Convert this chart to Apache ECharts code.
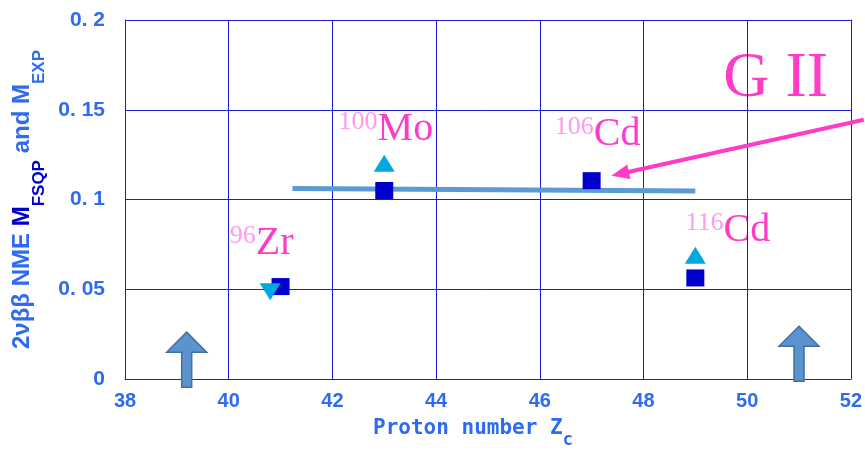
<!DOCTYPE html>
<html>
<head>
<meta charset="utf-8">
<script src="https://cdn.jsdelivr.net/npm/echarts@6/dist/echarts.min.js"></script>
<style>
  html, body { margin: 0; padding: 0; background: #ffffff; }
  #chart { width: 865px; height: 454px; }
</style>
</head>
<body>
<div id="chart"></div>
<script>
// Axis ticks
const xMin = 38, xMax = 52, xStep = 2;
const yTickLabels = ['0', '0. 05', '0. 1', '0. 15', '0. 2'];

// FSQP calculated 2vbb NMEs (squares)
const fsqpZ = [41.0, 43.0, 47.0, 49.0];
const fsqpM = [0.0515, 0.105, 0.1105, 0.0563];

// Experimental 2vbb NMEs (triangles)
const expZ = [40.8, 43.0, 49.0];
const expM = [0.0486, 0.1202, 0.0689];
const expPointsDown = [true, false, false];

// Group II trend line
const trendZ = [41.23, 49.0];
const trendM = [0.1061, 0.1047];

// Nuclide names
const nuclideMass = ['96', '100', '106', '116'];
const nuclideName = ['Zr', 'Mo', 'Cd', 'Cd'];
const groupLabel = 'G II';

const BLUE_TEXT = '#2E6BF2';
const DARK_BLUE = '#0000CC';
const GRID_BLUE = '#1B1BD8';
const PINK = '#FF3CC8';
const LIGHT_PINK = '#FF9AEE';
const SANS = '"Liberation Sans", Arial, sans-serif';
const MONO = '"DejaVu Sans Mono", monospace';

const chart = echarts.init(document.getElementById('chart'), null, { renderer: 'canvas' });

chart.setOption({
  animation: false,
  backgroundColor: '#ffffff',
  grid: { left: 125, right: 12, top: 20, bottom: 74 },
  xAxis: {
    type: 'value', min: xMin, max: xMax, interval: xStep,
    name: '{a|Proton number Z}{s|c}',
    nameLocation: 'middle', nameGap: 39,
    nameTextStyle: {
      padding: [0, 30, 0, 0],
      rich: {
        a: { fontFamily: MONO, fontSize: 21, fontWeight: 'bold', color: BLUE_TEXT, lineHeight: 22, verticalAlign: 'top' },
        s: { fontFamily: MONO, fontSize: 17, fontWeight: 'bold', color: BLUE_TEXT, lineHeight: 17, verticalAlign: 'top', padding: [14, 0, 0, 0] }
      }
    },
    axisLine: { lineStyle: { color: GRID_BLUE, width: 1 } },
    axisTick: { inside: true, length: 12, lineStyle: { color: GRID_BLUE } },
    axisLabel: { color: BLUE_TEXT, fontFamily: SANS, fontWeight: 'bold', fontSize: 20, margin: 12 },
    splitLine: { show: true, lineStyle: { color: GRID_BLUE, width: 1 } }
  },
  yAxis: [{
    type: 'value', min: 0, max: 0.2, interval: 0.05,
    name: '{a|2νββ NME }{m|M}{ms|FSQP}{a| and M}{s|EXP}',
    nameLocation: 'middle', nameGap: 75, nameRotate: 90,
    nameTextStyle: {
      rich: {
        a: { fontFamily: SANS, fontWeight: 'bold', fontSize: 24, color: BLUE_TEXT, lineHeight: 24, verticalAlign: 'top' },
        m: { fontFamily: SANS, fontWeight: 'bold', fontSize: 24, color: DARK_BLUE, lineHeight: 24, verticalAlign: 'top' },
        ms: { fontFamily: SANS, fontWeight: 'bold', fontSize: 17, color: DARK_BLUE, lineHeight: 17, verticalAlign: 'top', padding: [20, 0, 0, 0] },
        s: { fontFamily: SANS, fontWeight: 'bold', fontSize: 17, color: BLUE_TEXT, lineHeight: 17, verticalAlign: 'top', padding: [20, 0, 0, 0] }
      }
    },
    axisLine: { show: true, lineStyle: { color: GRID_BLUE, width: 1 } },
    axisTick: { show: true, inside: true, length: 6, lineStyle: { color: GRID_BLUE } },
    axisLabel: {
      color: BLUE_TEXT, fontFamily: SANS, fontWeight: 'bold', fontSize: 21, margin: 20,
      formatter: (v) => yTickLabels[Math.round(v / 0.05)]
    },
    splitLine: { show: true, lineStyle: { color: GRID_BLUE, width: 1 } }
  }, {
    type: 'value', min: 0, max: 0.2, interval: 0.05, position: 'right',
    axisLine: { show: true, lineStyle: { color: GRID_BLUE, width: 1 } },
    axisTick: { show: true, inside: true, length: 12, lineStyle: { color: GRID_BLUE } },
    axisLabel: { show: false },
    splitLine: { show: false }
  }],
  series: [
    {
      name: 'Group II trend', type: 'line', z: 3,
      data: trendZ.map((z, i) => [z, trendM[i]]),
      symbol: 'none',
      lineStyle: { color: '#5B9BD5', width: 5, cap: 'butt' }
    },
    {
      name: 'FSQP', type: 'scatter', z: 4,
      data: fsqpZ.map((z, i) => [z, fsqpM[i]]),
      symbol: 'rect', symbolSize: [18, 17],
      itemStyle: { color: DARK_BLUE, opacity: 1 }
    },
    {
      name: 'EXP', type: 'scatter', z: 5,
      data: expZ.map((z, i) => ({
        value: [z, expM[i]],
        symbolRotate: expPointsDown[i] ? 180 : 0
      })),
      symbol: 'triangle', symbolSize: [21, 17],
      itemStyle: { color: '#00A8E0', opacity: 1 }
    }
  ]
});

// Annotations placed in data coordinates
const toPx = (p) => chart.convertToPixel({ gridIndex: 0 }, p);

const nuclideAnchor = [[40.02, 0.0644], [42.12, 0.1278], [46.29, 0.1250], [48.81, 0.0717]];
const groupAnchor = [49.54, 0.1490];
const pointerFrom = [52.25, 0.1444];
const pointerTo = [47.38, 0.1133];
const blockArrowTips = [[39.19, 0.0261], [51.0, 0.0294]];

const graphics = [];

nuclideName.forEach((name, i) => {
  const p = toPx(nuclideAnchor[i]);
  graphics.push({
    type: 'text', z: -1, x: p[0], y: p[1],
    style: {
      text: '{s|' + nuclideMass[i] + '}{m|' + name + '}',
      align: 'left', verticalAlign: 'bottom',
      rich: {
        s: { fontFamily: '"Liberation Serif", serif', fontSize: 26, lineHeight: 26, fill: LIGHT_PINK, verticalAlign: 'top' },
        m: { fontFamily: '"Liberation Serif", serif', fontSize: 40, lineHeight: 40, fill: PINK, verticalAlign: 'middle' }
      }
    }
  });
});

const g = toPx(groupAnchor);
graphics.push({
  type: 'text', z: -1, x: g[0], y: g[1],
  style: {
    text: groupLabel, align: 'left', verticalAlign: 'bottom',
    fontFamily: '"Liberation Serif", serif', fontSize: 64, fill: PINK
  }
});

// Magenta pointer toward the 106Cd point
const a = toPx(pointerFrom), b = toPx(pointerTo);
const dx = b[0] - a[0], dy = b[1] - a[1];
const len = Math.hypot(dx, dy), ux = dx / len, uy = dy / len;
const headLen = 18, headHalf = 7.5;
const base = [b[0] - ux * headLen, b[1] - uy * headLen];
graphics.push({
  type: 'line', z: 20,
  shape: { x1: a[0], y1: a[1], x2: base[0] + ux * 2, y2: base[1] + uy * 2 },
  style: { stroke: PINK, lineWidth: 4 }
});
graphics.push({
  type: 'polygon', z: 20,
  shape: { points: [b, [base[0] - uy * headHalf, base[1] + ux * headHalf], [base[0] + uy * headHalf, base[1] - ux * headHalf]] },
  style: { fill: PINK }
});

// Block arrows at the shell closures
blockArrowTips.forEach((tip) => {
  const t = toPx(tip);
  const headW = 20, headH = 20, shaftW = 5, total = 55;
  graphics.push({
    type: 'polygon', z: 20,
    shape: {
      points: [
        [t[0], t[1]],
        [t[0] + headW, t[1] + headH],
        [t[0] + shaftW, t[1] + headH],
        [t[0] + shaftW, t[1] + total],
        [t[0] - shaftW, t[1] + total],
        [t[0] - shaftW, t[1] + headH],
        [t[0] - headW, t[1] + headH]
      ]
    },
    style: { fill: '#5B93CF', stroke: '#41719C', lineWidth: 1.5 }
  });
});

chart.setOption({ graphic: { elements: graphics } });
</script>
</body>
</html>
